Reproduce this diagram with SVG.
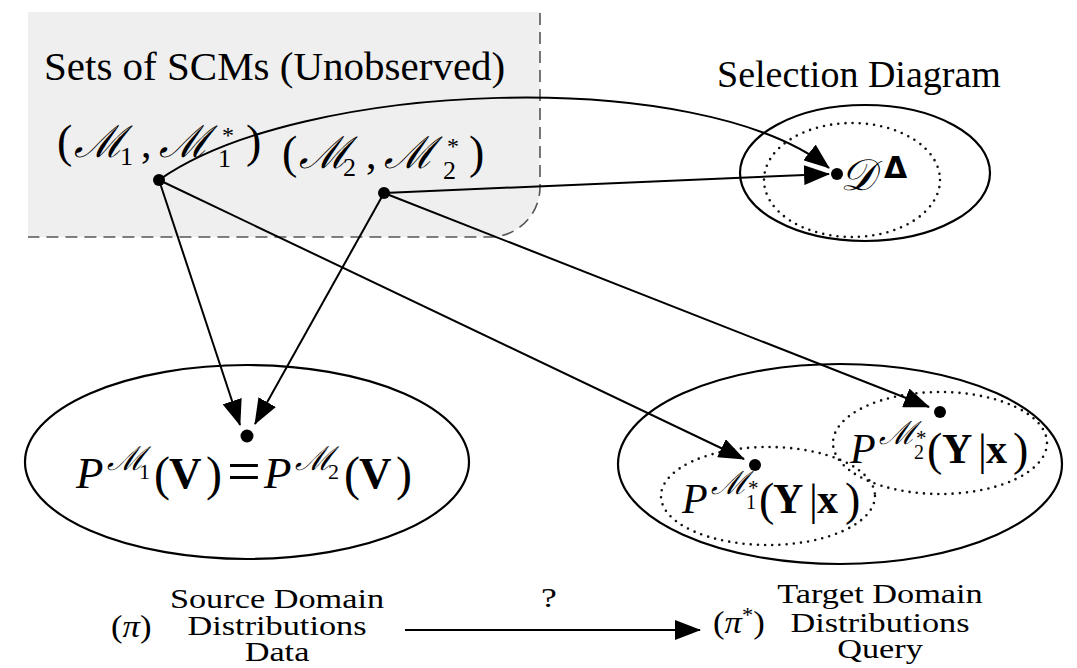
<svg xmlns="http://www.w3.org/2000/svg" width="1077" height="668" viewBox="0 0 1077 668">
  <style>
    .rm { font-family: "Liberation Serif", "Times New Roman", serif; fill: #000; }
    .it { font-family: "Liberation Serif", "Times New Roman", serif; font-style: italic; }
    .bf { font-family: "Liberation Serif", "Times New Roman", serif; font-weight: bold; }
    .sc { font-family: "DejaVu Serif", "Liberation Serif", serif; font-style: italic; }
    .edge { fill: none; stroke: #000; stroke-width: 2; }
    .oval { fill: none; stroke: #000; stroke-width: 2.2; }
    .dots { fill: none; stroke: #111; stroke-width: 2.6; stroke-linecap: round; stroke-dasharray: 0 7.2; }
    .pt { fill: #000; }
  </style>
  <defs>
    <marker id="ah" viewBox="0 0 26 20" refX="25" refY="10" markerWidth="26" markerHeight="20" markerUnits="userSpaceOnUse" orient="auto">
      <path d="M0,0 L26,10 L0,20 Z" fill="#000"/>
    </marker>
  </defs>

  <rect width="1077" height="668" fill="#fff"/>

  <!-- shaded set of unobserved models -->
  <g id="scm-set">
    <path d="M28,12 H540 V187 A50,50 0 0 1 490,237 H28 Z" fill="#efefef"/>
    <path d="M540,13 V187 A50,50 0 0 1 490,237 H28" fill="none" stroke="#555" stroke-width="1.6" stroke-dasharray="12 7"/>
    <text class="rm" x="44" y="80" font-size="41">Sets of SCMs (Unobserved)</text>
  </g>

  <g id="m1-pair">
    <text class="rm" font-size="46"><tspan x="57" y="157">(</tspan><tspan class="sc" x="74" y="157" font-size="44">ℳ</tspan><tspan x="120" y="165" font-size="26">1</tspan><tspan x="141" y="157" font-size="42">,</tspan><tspan class="sc" x="159" y="157" font-size="44">ℳ</tspan><tspan x="222" y="143" font-size="24">*</tspan><tspan x="246" y="157">)</tspan></text>
    <text class="rm" x="218" y="167" font-size="26">1</text>
  </g>

  <g id="m2-pair">
    <text class="rm" font-size="46"><tspan x="282" y="168">(</tspan><tspan class="sc" x="299" y="168" font-size="44">ℳ</tspan><tspan x="343" y="176" font-size="26">2</tspan><tspan x="366" y="168" font-size="42">,</tspan><tspan class="sc" x="384" y="168" font-size="44">ℳ</tspan><tspan x="447" y="154" font-size="24">*</tspan><tspan x="469" y="168">)</tspan></text>
    <text class="rm" x="443" y="179" font-size="26">2</text>
  </g>

  <g id="selection-diagram">
    <text class="rm" x="717" y="87" font-size="38">Selection Diagram</text>
    <ellipse class="oval" cx="865" cy="173" rx="125" ry="68"/>
    <ellipse class="dots" cx="852" cy="180" rx="88" ry="57"/>
    <text class="rm" font-size="44"><tspan class="sc" x="840" y="190">𝒟</tspan><tspan x="884" y="178" font-family="DejaVu Sans, sans-serif" font-weight="bold" font-size="30">Δ</tspan></text>
  </g>

  <g id="source-dist">
    <ellipse class="oval" cx="247" cy="462" rx="222" ry="97"/>
    <text class="rm" font-size="45"><tspan class="it" x="76" y="488">P</tspan><tspan class="sc" x="107" y="470" font-size="33">ℳ</tspan><tspan x="139" y="479" font-size="22">1</tspan><tspan x="154" y="490" font-size="48">(</tspan><tspan class="bf" x="169" y="488">V</tspan><tspan x="206" y="490" font-size="48">)</tspan><tspan x="227" y="491" font-size="60">=</tspan><tspan class="it" x="264" y="488">P</tspan><tspan class="sc" x="295" y="470" font-size="33">ℳ</tspan><tspan x="328" y="479" font-size="22">2</tspan><tspan x="344" y="490" font-size="48">(</tspan><tspan class="bf" x="359" y="488">V</tspan><tspan x="396" y="490" font-size="48">)</tspan></text>
  </g>

  <g id="target-dist">
    <ellipse class="oval" cx="840" cy="464" rx="222" ry="100"/>
  </g>

  <g id="target-query-1">
    <ellipse class="dots" cx="768" cy="496" rx="107" ry="49"/>
    <text class="rm" font-size="42"><tspan class="it" x="682" y="513">P</tspan><tspan class="sc" x="711" y="494" font-size="32">ℳ</tspan><tspan x="748" y="495" font-size="21">*</tspan><tspan x="759" y="515" font-size="46">(</tspan><tspan class="bf" x="773" y="513">Y</tspan><tspan x="809" y="515" font-size="44">|</tspan><tspan class="bf" x="817" y="513">x</tspan><tspan x="845" y="515" font-size="46">)</tspan></text>
    <text class="rm" x="746" y="509" font-size="20">1</text>
  </g>

  <g id="target-query-2">
    <ellipse class="dots" cx="940" cy="443" rx="107" ry="51"/>
    <text class="rm" font-size="42"><tspan class="it" x="850" y="463">P</tspan><tspan class="sc" x="879" y="444" font-size="32">ℳ</tspan><tspan x="916" y="445" font-size="21">*</tspan><tspan x="927" y="465" font-size="46">(</tspan><tspan class="bf" x="942" y="463">Y</tspan><tspan x="978" y="465" font-size="44">|</tspan><tspan class="bf" x="986" y="463">x</tspan><tspan x="1013" y="465" font-size="46">)</tspan></text>
    <text class="rm" x="914" y="459" font-size="20">2</text>
  </g>

  <!-- bottom legend: source vs target domain -->
  <g id="source-label">
    <g transform="translate(111,637) scale(1.12,1)">
      <text class="rm" x="0" y="0" font-size="31">(<tspan class="it">π</tspan>)</text>
    </g>
    <g transform="translate(277,0) scale(1.27,1)" text-anchor="middle">
      <text class="rm" font-size="27"><tspan x="0" y="608">Source Domain</tspan><tspan x="0" y="635">Distributions</tspan><tspan x="0" y="661">Data</tspan></text>
    </g>
  </g>
  <g id="target-label">
    <g transform="translate(713,633) scale(1.12,1)">
      <text class="rm" x="0" y="0" font-size="31">(<tspan class="it">π</tspan><tspan font-size="20" dy="-11">*</tspan><tspan dy="11">)</tspan></text>
    </g>
    <g transform="translate(880,0) scale(1.27,1)" text-anchor="middle">
      <text class="rm" font-size="27"><tspan x="0" y="603">Target Domain</tspan><tspan x="0" y="632">Distributions</tspan><tspan x="0" y="658">Query</tspan></text>
    </g>
  </g>

  <g id="connectors">
    <path class="edge" d="M159,180 C300,80 700,65 829,168" marker-end="url(#ah)"/>
    <line class="edge" x1="384" y1="193" x2="829" y2="174" marker-end="url(#ah)"/>
    <line class="edge" x1="159" y1="180" x2="240" y2="425" marker-end="url(#ah)"/>
    <line class="edge" x1="384" y1="193" x2="255" y2="424" marker-end="url(#ah)"/>
    <line class="edge" x1="159" y1="180" x2="744" y2="459" marker-end="url(#ah)"/>
    <line class="edge" x1="384" y1="193" x2="929" y2="407" marker-end="url(#ah)"/>
    <line class="edge" x1="405" y1="630" x2="700" y2="630" marker-end="url(#ah)"/>
    <g transform="translate(549,607) scale(1.27,1)">
      <text class="rm" x="0" y="0" font-size="28" text-anchor="middle">?</text>
    </g>
  </g>

  <g id="points">
    <circle class="pt" cx="159" cy="180" r="6"/>
    <circle class="pt" cx="384" cy="193" r="6"/>
    <circle class="pt" cx="837" cy="174" r="6"/>
    <circle class="pt" cx="247" cy="436" r="6.5"/>
    <circle class="pt" cx="755" cy="465" r="6"/>
    <circle class="pt" cx="940" cy="412" r="6"/>
  </g>
</svg>
